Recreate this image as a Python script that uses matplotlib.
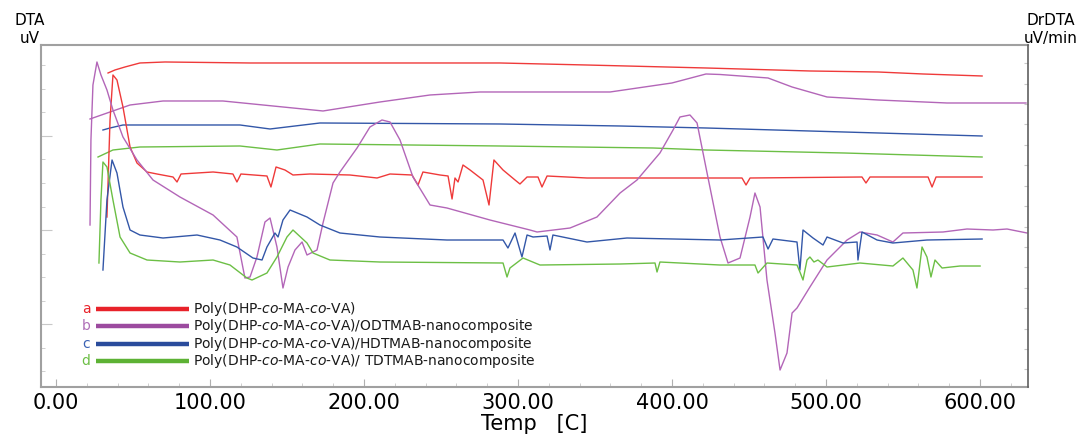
import numpy as np
import matplotlib.pyplot as plt
from matplotlib.ticker import FixedLocator, MultipleLocator, FormatStrFormatter

plt.rcParams['font.family'] = ['DejaVu Sans']
plt.rcParams['mathtext.fontset'] = 'dejavusans'

# ----------------------------------------------------
# Data (temp in C, signal in arbitrary uV units)
# ----------------------------------------------------
# DTA curves (left axis)
red_dta_t = [33.8, 38.3, 44.8, 54.5, 70.8, 126.0, 223.4, 288.3, 344.2, 422.1, 489.6, 533.8, 563.0, 601.4]
red_dta_v = [31.4, 31.7, 32.0, 32.4, 32.5, 32.4, 32.4, 32.4, 32.2, 31.9, 31.6, 31.5, 31.3, 31.1]

purple_dta_t = [22.1, 48.1, 69.5, 108.4, 134.4, 173.4, 210.4, 242.9, 275.3, 307.8, 359.8, 400.0,
                422.1, 431.2, 462.4, 478.0, 500.7, 533.8, 578.6, 629.9]
purple_dta_v = [26.8, 28.2, 28.6, 28.6, 28.2, 27.6, 28.5, 29.2, 29.5, 29.5, 29.5, 30.4,
                31.3, 31.25, 30.9, 30.0, 29.0, 28.7, 28.4, 28.4]

blue_dta_t = [30.5, 35.1, 43.5, 119.5, 139.0, 171.4, 288.3, 366.3, 422.1, 511.7, 601.4]
blue_dta_v = [25.7, 25.9, 26.2, 26.2, 25.8, 26.4, 26.3, 26.1, 25.9, 25.5, 25.1]

green_dta_t = [27.3, 37.0, 54.5, 119.5, 143.5, 171.4, 288.3, 387.7, 422.1, 511.7, 601.4]
green_dta_v = [23.0, 23.7, 24.0, 24.1, 23.7, 24.3, 24.1, 23.9, 23.7, 23.4, 23.0]

# DrDTA curves (right axis)
red_dr_t = [33.1, 35.1, 37.0, 39.6, 43.5, 48.1, 52.6, 59.1, 65.6, 76.0, 78.6, 81.2, 102.0, 114.9,
            117.5, 120.1, 137.0, 139.6, 142.9, 148.7, 153.9, 164.9, 190.9, 208.5, 216.9, 231.2,
            235.1, 238.3, 249.4, 254.6, 257.2, 259.1, 261.1, 264.3, 268.9, 277.3, 281.2, 284.4,
            290.3, 298.1, 301.3, 305.9, 313.0, 315.6, 318.9, 344.8, 387.7, 445.5, 448.1, 450.7,
            523.4, 526.0, 528.6, 566.3, 568.9, 571.5, 601.4]
red_dr_v = [17.0, 26.7, 31.2, 30.7, 28.0, 24.0, 22.4, 21.5, 21.3, 21.0, 20.5, 21.3, 21.5, 21.3,
            20.5, 21.3, 21.1, 20.0, 22.0, 21.7, 21.2, 21.3, 21.2, 20.9, 21.3, 21.2,
            20.2, 21.5, 21.2, 21.1, 18.8, 20.9, 20.5, 22.2, 21.7, 20.7, 18.2, 22.7,
            21.7, 20.7, 20.3, 21.0, 21.0, 20.0, 21.1, 20.9, 20.9, 20.9, 20.2, 20.9,
            21.0, 20.4, 21.0, 21.0, 20.0, 21.0, 21.0]

purple_dr_t = [22.1, 22.7, 24.0, 26.6, 29.2, 33.1, 37.0, 43.5, 52.6, 63.0, 80.5, 102.0, 117.5,
               122.7, 126.0, 130.5, 135.7, 139.0, 143.5, 147.4, 150.7, 155.2, 159.8, 163.0,
               169.5, 173.4, 179.9, 184.4, 195.5, 203.9, 211.7, 216.9, 223.4, 231.8, 242.9,
               253.9, 281.8, 307.8, 312.4, 333.8, 351.3, 366.3, 377.3, 392.2, 400.7, 405.2,
               411.7, 416.3, 422.8, 431.2, 436.4, 444.2, 450.7, 453.9, 457.2, 461.7, 466.9,
               470.2, 474.7, 478.0, 481.2, 489.6, 500.7, 513.7, 522.1, 533.2, 543.5, 550.0,
               576.0, 591.6, 608.5, 617.6, 630.6]
purple_dr_v = [16.2, 24.7, 30.2, 32.5, 31.2, 29.7, 27.7, 25.0, 22.7, 20.7, 19.0, 17.2, 15.0,
               10.9, 11.0, 13.0, 16.5, 16.9, 14.0, 9.9, 12.0, 13.7, 14.5, 13.2,
               13.7, 16.4, 20.4, 21.5, 23.9, 26.0, 26.7, 26.5, 24.7, 21.0, 18.2,
               17.9, 16.7, 15.7, 15.5, 15.9, 17.0, 19.4, 20.7, 23.4, 25.7, 27.0,
               27.2, 26.4, 21.4, 15.0, 12.4, 12.9, 17.0, 19.4, 18.0, 10.7, 5.4,
               1.7, 3.4, 7.4, 7.9, 10.0, 12.7, 14.7, 15.5, 15.2, 14.5, 15.4,
               15.5, 15.8, 15.7, 15.8, 15.4]

blue_dr_t = [30.5, 33.1, 36.4, 39.6, 43.5, 48.1, 54.5, 69.5, 91.6, 106.5, 117.5, 127.9, 133.8,
             137.0, 142.2, 144.2, 147.4, 152.0, 163.0, 171.4, 184.4, 210.4, 253.9, 290.3, 293.5,
             298.1, 302.6, 305.9, 309.8, 318.9, 320.8, 322.7, 344.8, 370.8, 431.2, 459.1, 462.4,
             465.6, 481.2, 483.1, 485.1, 491.6, 498.1, 500.7, 511.1, 520.2, 520.8, 523.4, 533.2,
             543.5, 565.6, 601.4]
blue_dr_v = [11.7, 18.7, 22.7, 21.4, 18.0, 15.7, 15.2, 14.9, 15.2, 14.7, 14.0, 12.9, 12.7,
             14.0, 15.4, 15.0, 16.7, 17.7, 17.0, 16.2, 15.4, 15.0, 14.7, 14.7, 13.9,
             15.4, 13.0, 15.2, 15.0, 15.1, 13.7, 15.2, 14.5, 14.9, 14.7, 15.0, 13.8,
             14.8, 14.5, 11.7, 15.7, 14.9, 14.2, 15.0, 14.4, 14.5, 12.7, 15.5, 14.7,
             14.4, 14.7, 14.8]

green_dr_t = [27.9, 29.2, 30.5, 33.1, 37.0, 41.6, 48.1, 59.1, 80.5, 102.0, 113.0, 124.0, 127.3,
              137.0, 143.5, 150.0, 153.9, 163.0, 166.9, 177.9, 210.4, 290.3, 292.9, 294.8,
              303.3, 314.3, 366.3, 389.0, 390.3, 392.2, 431.2, 453.9, 455.9, 461.7, 481.2,
              483.1, 485.1, 487.7, 489.6, 492.2, 494.8, 500.7, 522.1, 543.5, 550.0, 556.5,
              559.1, 562.4, 565.6, 568.2, 570.8, 575.4, 587.1, 600.1]
green_dr_v = [12.4, 18.7, 22.5, 22.0, 18.7, 15.0, 13.4, 12.7, 12.5, 12.7, 12.2, 10.9, 10.7,
              11.4, 13.0, 15.0, 15.7, 14.4, 13.4, 12.7, 12.5, 12.4, 11.0, 11.9,
              12.9, 12.2, 12.3, 12.4, 11.5, 12.5, 12.2, 12.2, 11.4, 12.4, 12.2,
              11.5, 10.7, 12.7, 13.0, 12.5, 12.7, 12.0, 12.4, 12.1, 12.9, 11.7,
              9.9, 14.0, 13.0, 11.0, 12.7, 11.9, 12.1, 12.1]

letters = ['a', 'b', 'c', 'd']
labels = [r'Poly(DHP-$\it{co}$-MA-$\it{co}$-VA)',
          r'Poly(DHP-$\it{co}$-MA-$\it{co}$-VA)/ODTMAB-nanocomposite',
          r'Poly(DHP-$\it{co}$-MA-$\it{co}$-VA)/HDTMAB-nanocomposite',
          r'Poly(DHP-$\it{co}$-MA-$\it{co}$-VA)/ TDTMAB-nanocomposite']

line_colors = ['#ef3a3a', '#b366b8', '#3357a8', '#6cbf45']
legend_colors = ['#e8222a', '#9c4b9f', '#2a4c9c', '#5db234']
letter_colors = ['#e8222a', '#b070b8', '#3a62b4', '#6cbf45']

# ----------------------------------------------------
# Figure
# ----------------------------------------------------
fig = plt.figure(figsize=(10.83, 4.41), dpi=100)
ax = fig.add_axes([0.0379, 0.1224, 0.9113, 0.7756])
ax2 = ax.twinx()

dta = [(red_dta_t, red_dta_v), (purple_dta_t, purple_dta_v),
       (blue_dta_t, blue_dta_v), (green_dta_t, green_dta_v)]
drdta = [(red_dr_t, red_dr_v), (purple_dr_t, purple_dr_v),
         (blue_dr_t, blue_dr_v), (green_dr_t, green_dr_v)]

for (t, v), c in zip(dta, line_colors):
    ax.plot(t, v, color=c, lw=1.0)
for (t, v), c in zip(drdta, line_colors):
    ax2.plot(t, v, color=c, lw=1.0)

ax.set_xlim(-9.7, 631.2)
ax.set_ylim(0, 34.2)
ax2.set_ylim(0, 34.2)

# ticks: inward, grey, no y labels
ax.xaxis.set_major_locator(MultipleLocator(100))
ax.xaxis.set_minor_locator(MultipleLocator(20))
ax.xaxis.set_major_formatter(FormatStrFormatter('%.2f'))
left_ticks = 1.6 + 2.35 * np.arange(14)
ax.yaxis.set_major_locator(FixedLocator(left_ticks[[2, 6, 10]]))
ax.yaxis.set_minor_locator(FixedLocator(left_ticks))
ax.set_yticklabels([])
ax2.yaxis.set_major_locator(FixedLocator(1.77 + 2.04 * np.arange(16)))
ax2.set_yticklabels([])

ax.tick_params(axis='x', which='major', direction='in', length=6, color='#b0b0b0',
               labelsize=15, pad=4, top=False)
ax.tick_params(axis='x', which='minor', direction='in', length=3, color='#c8c8c8', top=False)
ax.tick_params(axis='y', which='major', direction='in', length=8, color='#c8c8c8')
ax.tick_params(axis='y', which='minor', direction='in', length=3, color='#c8c8c8')
ax2.tick_params(axis='y', which='major', direction='in', length=3, color='#c8c8c8')

for sp in ['left', 'top', 'bottom']:
    ax.spines[sp].set_color('#a0a0a0')
    ax.spines[sp].set_linewidth(1.5)
    ax2.spines[sp].set_visible(False)
ax.spines['right'].set_visible(False)
ax2.spines['right'].set_color('#606060')
ax2.spines['right'].set_linewidth(1.2)

ax.set_xlabel('Temp   [C]', fontsize=15, labelpad=1)

fig.text(0.0277, 0.953, 'DTA', ha='center', va='center', fontsize=11)
fig.text(0.0277, 0.912, 'uV', ha='center', va='center', fontsize=11)
fig.text(0.970, 0.953, 'DrDTA', ha='center', va='center', fontsize=11)
fig.text(0.970, 0.912, 'uV/min', ha='center', va='center', fontsize=11)

# legend drawn by hand in axes fraction
rows = [0.227, 0.177, 0.127, 0.077]
for yr, let, lab, lc, tc in zip(rows, letters, labels, legend_colors, letter_colors):
    ax.text(0.0456, yr, let, color=tc, fontsize=10, ha='center', va='center',
            transform=ax.transAxes)
    ax.plot([0.0557, 0.150], [yr, yr], color=lc, lw=3.2, transform=ax.transAxes,
            solid_capstyle='butt')
    ax.text(0.154, yr, lab, color='#1a1a1a', fontsize=10, ha='left', va='center',
            transform=ax.transAxes)

plt.savefig('out.png', dpi=100)
